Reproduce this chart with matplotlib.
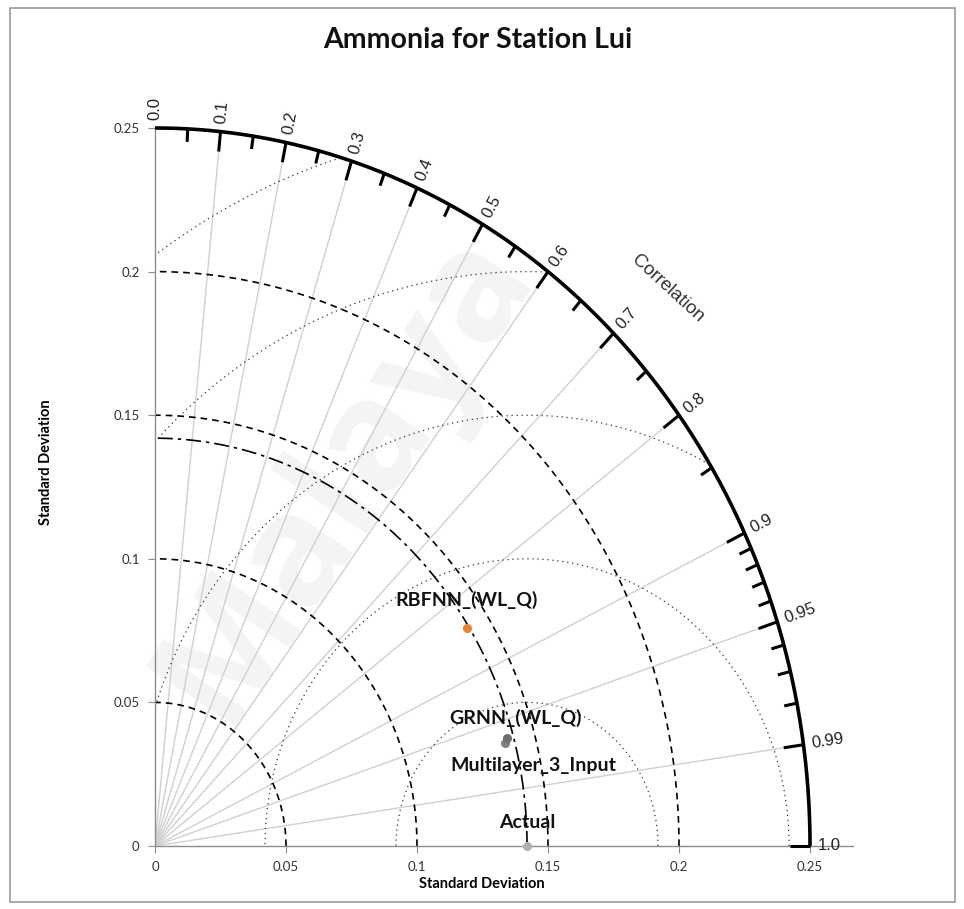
import numpy as np
import matplotlib.pyplot as plt
from matplotlib.patches import Rectangle

# -----------------------------------------------------
# Data (Taylor diagram: std deviation + correlation)
# -----------------------------------------------------
title = 'Ammonia for Station Lui'
models = ['RBFNN_(WL_Q)', 'GRNN_(WL_Q)', 'Multilayer_3_Input', 'Actual']
std_devs = [0.1411, 0.1383, 0.1395, 0.142]
correlations = [0.843, 0.966, 0.963, 1.0]
point_colors = ['#e8822e', '#808080', '#6e6e6e', '#b0b0b0']
label_offsets = [(0, 28), (10, 25), (26, -27), (0, 24)]   # pixels

ref_std = 0.142
std_ticks = [0, 0.05, 0.1, 0.15, 0.2, 0.25]
std_tick_labels = ['0', '0.05', '0.1', '0.15', '0.2', '0.25']
std_circles = [0.05, 0.1, 0.15, 0.2]
rms_circles = [0.05, 0.1, 0.15, 0.2, 0.25]
max_std = 0.25

corr_major = [0.0, 0.1, 0.2, 0.3, 0.4, 0.5, 0.6, 0.7, 0.8, 0.9, 0.95, 0.99, 1.0]
corr_major_labels = ['0.0', '0.1', '0.2', '0.3', '0.4', '0.5', '0.6', '0.7',
                     '0.8', '0.9', '0.95', '0.99', '1.0']
corr_minor = [0.05, 0.15, 0.25, 0.35, 0.45, 0.55, 0.65, 0.75, 0.85,
              0.91, 0.92, 0.93, 0.94, 0.96, 0.97, 0.98]
corr_lines = [0.1, 0.2, 0.3, 0.4, 0.5, 0.6, 0.7, 0.8, 0.9, 0.95, 0.99]

# -----------------------------------------------------
# Figure
# -----------------------------------------------------
W, H = 964, 909
fig = plt.figure(figsize=(W / 100, H / 100), dpi=100)
fig.patch.set_facecolor('white')
fig.add_artist(Rectangle((10 / W, 7 / H), 945 / W, 894 / H, transform=fig.transFigure,
                         fill=False, edgecolor='#9a9a9a', linewidth=1.2))

x_max = 0.2664
ax = fig.add_axes([155 / W, 63 / H, 698 / W, 718 / H])
ax.set_xlim(0, x_max)
ax.set_ylim(0, max_std)
sx = 698 / x_max      # pixels per unit
sy = 718 / max_std

# watermark
ax.text(0.0725, 0.129, 'Malaya', fontsize=110, color='#f4f4f4', rotation=56,
        ha='center', va='center', family='Open Sans', fontweight='bold', zorder=0)

for s in ['top', 'right']:
    ax.spines[s].set_visible(False)
for s in ['left', 'bottom']:
    ax.spines[s].set_color('#8c8c8c')
    ax.spines[s].set_linewidth(1.0)

ax.set_xticks(std_ticks)
ax.set_xticklabels(std_tick_labels)
ax.set_yticks(std_ticks)
ax.set_yticklabels(std_tick_labels)
ax.tick_params(length=5, color='#8c8c8c', labelsize=9.5, labelcolor='#333333', pad=6)
for lab in ax.get_xticklabels() + ax.get_yticklabels():
    lab.set_family('Lato')

ax.set_xlabel('Standard Deviation', family='Lato', fontweight='bold', fontsize=10.5)
ax.set_ylabel('Standard Deviation', family='Lato', fontweight='bold', fontsize=10.5)
ax.xaxis.set_label_coords(0.468, -0.043)
ax.yaxis.set_label_coords(-0.146, 0.535)

# correlation rays
for c in corr_lines:
    th = np.arccos(c)
    ax.plot([0, max_std * np.cos(th)], [0, max_std * np.sin(th)],
            color='#d0d0d0', lw=1.0, zorder=1)

t = np.linspace(0, np.pi / 2, 400)
# std dev circles
for r in std_circles:
    ax.plot(r * np.cos(t), r * np.sin(t), color='black', lw=1.2,
            linestyle=(0, (4, 3)), zorder=2)
# reference std circle
ax.plot(ref_std * np.cos(t), ref_std * np.sin(t), color='black', lw=1.2,
        linestyle=(0, (9, 3, 2, 3)), zorder=2)

# RMS circles around reference point
tt = np.linspace(0, np.pi, 800)
for R in rms_circles:
    x = ref_std + R * np.cos(tt)
    y = R * np.sin(tt)
    bad = (np.hypot(x, y) > max_std) | (x < 0)
    x = np.where(bad, np.nan, x)
    y = np.where(bad, np.nan, y)
    ax.plot(x, y, color='#333333', lw=0.9, linestyle=(0, (1, 3)), zorder=2)

# outer arc
ax.plot(max_std * np.cos(t), max_std * np.sin(t), color='black', lw=2.6,
        clip_on=False, zorder=4, solid_capstyle='butt')


def tick(c, length):
    th = np.arccos(c)
    x0, y0 = max_std * np.cos(th), max_std * np.sin(th)
    phi = np.arctan2(y0 * sy, x0 * sx)
    x1 = x0 - length * np.cos(phi) / sx
    y1 = y0 - length * np.sin(phi) / sy
    ax.plot([x0, x1], [y0, y1], color='black', lw=2.2, clip_on=False, zorder=4,
            solid_capstyle='butt')
    return th, phi


for c, lab in zip(corr_major, corr_major_labels):
    if c == 0.0:
        th = np.pi / 2
        phi = np.pi / 2
    else:
        th, phi = tick(c, 20)
    # keep the label gap constant in pixels
    x0 = max_std * np.cos(th) + 8 * np.cos(phi) / sx
    y0 = max_std * np.sin(th) + 8 * np.sin(phi) / sy
    ax.text(x0, y0, lab, rotation=np.degrees(phi), rotation_mode='anchor',
            ha='left', va='center', fontsize=12, family='Liberation Sans',
            color='#222222', clip_on=False)

for c in corr_minor:
    tick(c, 13)

# "Correlation" axis label
cth = np.arccos(0.71)
cx, cy = 0.2755 * np.cos(cth), 0.2755 * np.sin(cth)
cphi = np.arctan2(cy * sy, cx * sx)
ax.text(cx, cy, 'Correlation', rotation=np.degrees(cphi) - 90,
        rotation_mode='anchor', ha='center', va='center', fontsize=13.5,
        family='Liberation Sans', color='#333333', clip_on=False)

# model points
for name, s, c, col, off in zip(models, std_devs, correlations, point_colors, label_offsets):
    th = np.arccos(c)
    px, py = s * np.cos(th), s * np.sin(th)
    ax.plot(px, py, 'o', color=col, markersize=5.5, zorder=6, clip_on=False)
    ax.annotate(name, (px, py), xytext=off, textcoords='offset pixels',
                ha='center', va='center', fontsize=14, fontweight='bold',
                family='Lato', color='#111111', zorder=7)

fig.text(478 / W, 1 - 40 / H, title, ha='center', va='center', fontsize=20.5,
         fontweight='bold', family='Lato', color='#111111')

plt.savefig('out.png', dpi=100, facecolor='white')
